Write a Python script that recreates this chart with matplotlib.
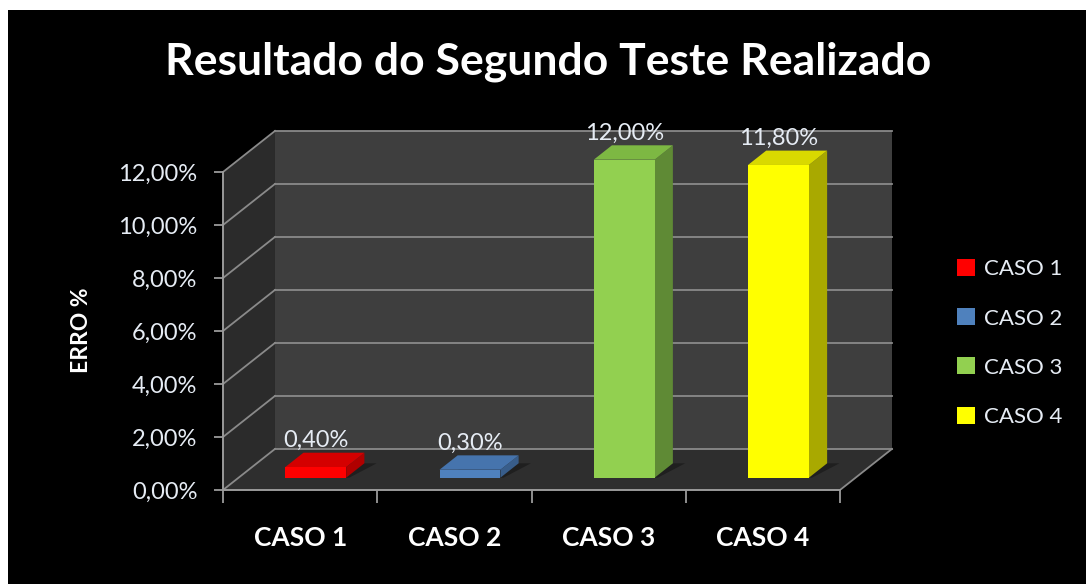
import matplotlib
matplotlib.use("Agg")
import matplotlib.pyplot as plt
from matplotlib.patches import Polygon, Rectangle, Patch

plt.rcParams['font.family'] = ['Lato', 'DejaVu Sans']

# Dados do grafico
categorias = ['CASO 1', 'CASO 2', 'CASO 3', 'CASO 4']
erro = [0.40, 0.30, 12.00, 11.80]  # erro em %
yticks = [0, 2, 4, 6, 8, 10, 12]

cores_frente = ['#ff0000', '#4f81bd', '#92d050', '#ffff00']
cores_topo = ['#d40000', '#4674ad', '#7db843', '#d9d900']
cores_lado = ['#b00000', '#385d8a', '#5f8a35', '#a9a900']


def pct(v):
    return f"{v:.2f}%".replace('.', ',')


# "3D" do Excel: deslocamento da profundidade em unidades de dados
DX, DY = 0.337, 1.55
F0, F1 = 0.30, 0.65   # frente e fundo das barras (fracao da profundidade)
LARG = 0.395
N = len(categorias)
YMAX = yticks[-1]

W, H = 1086, 584
fig = plt.figure(figsize=(W / 100, H / 100), dpi=100, facecolor='white')
fig.patches.append(Rectangle((8 / W, 0), 1, (H - 10) / H, transform=fig.transFigure,
                             facecolor='black', edgecolor='none', zorder=-5))

# eixo: 0 -> px 223, 4 -> px 840 ; 0% -> px 490, 12% -> px 172
px_x, px_y = 154.25, 26.5
xmax, ymax = 4.45, 14.2
ax = fig.add_axes([223 / W, (H - 490) / H, xmax * px_x / W, ymax * px_y / H])
ax.set_zorder(2)
ax.set_xlim(0, xmax)
ax.set_ylim(0, ymax)
ax.set_facecolor('none')

# paredes e chao
parede_fundo = Polygon([(DX, DY), (N + DX, DY), (N + DX, YMAX + DY), (DX, YMAX + DY)],
                       facecolor='#3e3e3e', edgecolor='none', zorder=0)
parede_lado = Polygon([(0, 0), (DX, DY), (DX, YMAX + DY), (0, YMAX)],
                      facecolor='#2b2b2b', edgecolor='none', zorder=0)
chao = Polygon([(0, 0), (N, 0), (N + DX, DY), (DX, DY)],
               facecolor='#2e2e2e', edgecolor='none', zorder=0)
for p in (parede_fundo, parede_lado, chao):
    ax.add_patch(p)

grid_cor = '#8a8a8a'
for v in yticks:
    ax.plot([DX, N + DX], [v + DY, v + DY], color=grid_cor, lw=1.3, zorder=1)
    ax.plot([0, DX], [v, v + DY], color=grid_cor, lw=1.3, zorder=1)
ax.plot([N, N + DX], [0, DY], color=grid_cor, lw=1.3, zorder=1)

# barras
for i, v in enumerate(erro):
    cx = i + 0.5 + F0 * DX
    xl, xr = cx - LARG / 2, cx + LARG / 2
    ddx = (F1 - F0) * DX
    b0, b1 = F0 * DY, F1 * DY
    sombra = Polygon([(xl + 0.02, b0), (xr + 0.02, b0), (xr + ddx + 0.08, b1), (xl + ddx + 0.08, b1)],
                     facecolor='#1f1f1f', edgecolor='none', zorder=2)
    ax.add_patch(sombra)
    lado = Polygon([(xr, b0), (xr + ddx, b1), (xr + ddx, v + b1), (xr, v + b0)],
                   facecolor=cores_lado[i], edgecolor='none', zorder=3)
    topo = Polygon([(xl, v + b0), (xr, v + b0), (xr + ddx, v + b1), (xl + ddx, v + b1)],
                   facecolor=cores_topo[i], edgecolor='none', zorder=3)
    frente = Polygon([(xl, b0), (xr, b0), (xr, v + b0), (xl, v + b0)],
                     facecolor=cores_frente[i], edgecolor='none', zorder=4)
    for p in (lado, topo, frente):
        ax.add_patch(p)
    ax.annotate(pct(v), (cx, v + b1), xytext=(0, 1), textcoords='offset points',
                ha='center', va='bottom', fontsize=17, color='#e6ecf4', zorder=5)

# eixos
for s in ('top', 'right'):
    ax.spines[s].set_visible(False)
ax.spines['left'].set_bounds(0, YMAX)
ax.spines['bottom'].set_bounds(0, N)
for s in ('left', 'bottom'):
    ax.spines[s].set_color('#9a9a9a')
    ax.spines[s].set_linewidth(1.4)
    ax.spines[s].set_zorder(6)

ax.set_yticks(yticks)
ax.set_yticklabels([pct(v) for v in yticks])
ax.tick_params(axis='y', direction='out', length=6.5, width=1.3, color='#9a9a9a',
               pad=12, labelsize=17, labelcolor='#e6ecf4')
ax.set_xticks(range(N + 1))
ax.set_xticklabels([''] * (N + 1))
ax.tick_params(axis='x', which='major', direction='out', length=9, width=1.3, color='#9a9a9a')
ax.set_xticks([i + 0.5 for i in range(N)], minor=True)
ax.set_xticklabels(categorias, minor=True, fontsize=19, fontweight='bold', color='white')
ax.tick_params(axis='x', which='minor', length=0, pad=26)

fig.text(82 / W, 1 - 330 / H, 'ERRO %', rotation=90, ha='center', va='center',
         fontsize=16.5, fontweight='bold', color='white')
fig.text(548 / W, 1 - 62 / H, 'Resultado do Segundo Teste Realizado', ha='center', va='center',
         fontsize=32, fontweight='bold', color='white')

handles = [Patch(facecolor=c, edgecolor='none') for c in cores_frente]
fig.legend(handles, categorias, loc='center left', bbox_to_anchor=(937 / W, 1 - 343 / H),
           frameon=False, fontsize=16, labelcolor='#e6ecf4', handlelength=0.8,
           handleheight=0.8, handletextpad=0.4, labelspacing=1.3)

fig.savefig('out.png', dpi=100, facecolor=fig.get_facecolor())
